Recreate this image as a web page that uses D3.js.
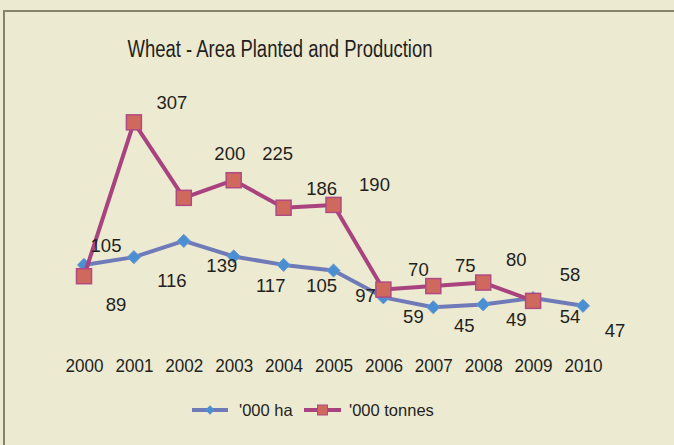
<!DOCTYPE html>
<html>
<head>
<meta charset="utf-8">
<script src="https://cdn.jsdelivr.net/npm/d3@7"></script>
<style>
  body { margin: 0; background: #edead2; }
  svg text { font-family: "Liberation Sans", Arial, sans-serif; fill: #231f20; }
</style>
</head>
<body>
<div id="chart"></div>
<script>
// data
var years = ["2000","2001","2002","2003","2004","2005","2006","2007","2008","2009","2010"];
var areaHa = [105, 116, 139, 117, 105, 97, 59, 45, 49, 58, 47];
var prodTonnes = [89, 307, 200, 225, 186, 190, 70, 75, 80, 54];
var seriesNames = ["'000 ha", "'000 tonnes"];

// where the data labels sit relative to their point (the original has them scattered)
var areaLabelNudge = [[22,-13],[38,30],[38,31],[37,36],[38,27],[32,31],[30,26],[31,25],[33,22],[37,-17],[32,31]];
var prodLabelNudge = [[32,35],[38,-13],[46,-38],[44,-20],[38,-13],[41,-14],[35,-14],[32,-14],[33,-17],[37,22]];

var width = 674, height = 445;

var svg = d3.select("#chart").append("svg")
  .attr("width", width)
  .attr("height", height);

svg.append("rect")
  .attr("width", width).attr("height", height)
  .attr("fill", "#edead2");

// frame: only top and left edges show
svg.append("path")
  .attr("d", "M4,445 V11 H674")
  .attr("fill", "none")
  .attr("stroke", "#85846f")
  .attr("stroke-width", 2);

// title (the original font is a narrow one, so squeeze it)
svg.append("text")
  .attr("x", 280).attr("y", 57)
  .attr("text-anchor", "middle")
  .attr("textLength", 305)
  .attr("lengthAdjust", "spacingAndGlyphs")
  .style("font-size", "23.5px")
  .text("Wheat - Area Planted and Production");

// scales
var x = d3.scalePoint().domain(years).range([84, 583]);
var y = d3.scaleLinear().domain([0, 350]).range([339, 92]);

// x axis, labels only
var xAxis = d3.axisBottom(x).tickSize(0).tickPadding(0);
var gX = svg.append("g")
  .attr("transform", "translate(0,359)")
  .call(xAxis);
gX.select(".domain").remove();
gX.selectAll("text")
  .style("font-size", "18px")
  .style("font-family", "'Liberation Sans', Arial, sans-serif")
  .attr("fill", "#231f20")
  .attr("textLength", 38)
  .attr("lengthAdjust", "spacingAndGlyphs")
  .attr("dy", "0.72em");

var blueLine = "#6f7bb8", blueFill = "#4a8fd2";
var redLine = "#a8437f", redFill = "#d0695d", redEdge = "#b04a82";

var line = d3.line()
  .x(function(d, i){ return x(years[i]); })
  .y(function(d){ return y(d); });

var diamond = d3.symbol().type(d3.symbolDiamond2);

// '000 ha series
svg.append("path")
  .datum(areaHa)
  .attr("d", line)
  .attr("fill", "none")
  .attr("stroke", blueLine)
  .attr("stroke-width", 4)
  .attr("stroke-linejoin", "round");

svg.selectAll(".ha")
  .data(areaHa)
  .enter()
  .append("path")
  .attr("class", "ha")
  .attr("transform", function(d, i){ return "translate(" + x(years[i]) + "," + y(d) + ")"; })
  .attr("d", diamond.size(110))
  .attr("fill", blueFill)
  .attr("stroke", "#6a9ad0")
  .attr("stroke-width", 1);

// '000 tonnes series
svg.append("path")
  .datum(prodTonnes)
  .attr("d", line)
  .attr("fill", "none")
  .attr("stroke", redLine)
  .attr("stroke-width", 4)
  .attr("stroke-linejoin", "round");

svg.selectAll(".tonnes")
  .data(prodTonnes)
  .enter()
  .append("rect")
  .attr("class", "tonnes")
  .attr("x", function(d, i){ return x(years[i]) - 7.5; })
  .attr("y", function(d){ return y(d) - 7.5; })
  .attr("width", 15).attr("height", 15)
  .attr("fill", redFill)
  .attr("stroke", redEdge)
  .attr("stroke-width", 1.5);

// data labels
function addLabels(values, nudge){
  svg.selectAll(null)
    .data(values)
    .enter()
    .append("text")
    .attr("x", function(d, i){ return x(years[i]) + nudge[i][0]; })
    .attr("y", function(d, i){ return y(d) + nudge[i][1]; })
    .attr("text-anchor", "middle")
    .style("font-size", "18.5px")
    .text(function(d){ return d; });
}
addLabels(areaHa, areaLabelNudge);
addLabels(prodTonnes, prodLabelNudge);

// legend
var legend = svg.append("g").attr("transform", "translate(192,410)");

legend.append("line")
  .attr("x1", 0).attr("x2", 36).attr("y1", 0).attr("y2", 0)
  .attr("stroke", blueLine).attr("stroke-width", 4);
legend.append("path")
  .attr("transform", "translate(18,0)")
  .attr("d", d3.symbol().type(d3.symbolDiamond2).size(55)())
  .attr("fill", blueFill);
legend.append("text")
  .attr("x", 47).attr("y", 6)
  .style("font-size", "16.5px")
  .text(seriesNames[0]);

legend.append("line")
  .attr("x1", 112).attr("x2", 149).attr("y1", 0).attr("y2", 0)
  .attr("stroke", redLine).attr("stroke-width", 4);
legend.append("rect")
  .attr("x", 125.5).attr("y", -5).attr("width", 10).attr("height", 10)
  .attr("fill", redFill).attr("stroke", redEdge).attr("stroke-width", 1);
legend.append("text")
  .attr("x", 157).attr("y", 6)
  .style("font-size", "16.5px")
  .text(seriesNames[1]);
</script>
</body>
</html>
